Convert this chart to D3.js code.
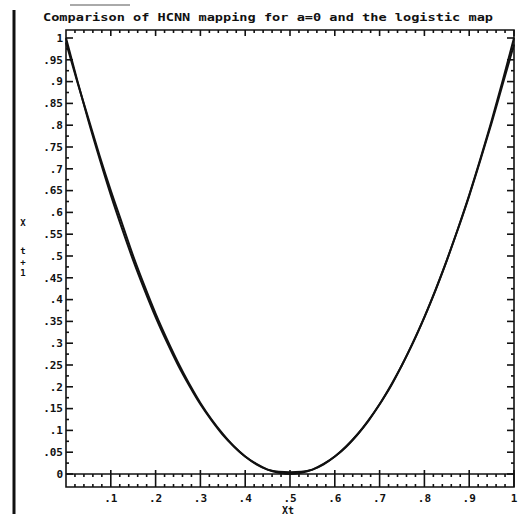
<!DOCTYPE html>
<html>

<head>
    <meta charset="UTF-8">
    <title>HCNN mapping vs logistic map</title>
    <style>
        body { margin: 0; background: #fff; }
        text { font-family: "DejaVu Sans Mono", monospace; font-weight: bold; fill: #111; }
    </style>
</head>

<body>
    <script src="https://d3js.org/d3.v7.min.js"></script>

    <svg width="521" height="518"></svg>

    <script>
        let svg = d3.select("svg"),
            width = +svg.attr("width"),
            height = +svg.attr("height");

        // x_t values the two maps were sampled at
        let xt = [0, .025, .05, .075, .1, .125, .15, .175, .2, .225, .25, .275, .3, .325, .35, .375, .4, .425, .45, .475,
            .5, .525, .55, .575, .6, .625, .65, .675, .7, .725, .75, .775, .8, .825, .85, .875, .9, .925, .95, .975, 1];

        // logistic map curve
        let logistic_vals = [1, .903, .81, .723, .64, .563, .49, .423, .36, .303, .25, .203, .16, .123, .09, .063, .04, .023, .01, .003,
            0, .003, .01, .023, .04, .063, .09, .123, .16, .203, .25, .303, .36, .423, .49, .563, .64, .723, .81, .903, 1];

        // HCNN mapping, nearly on top of the logistic one
        let hcnn_vals = [.99, .9, .815, .73, .65, .575, .5, .432, .368, .31, .256, .207, .163, .125, .092, .063, .04, .022, .01, .005,
            .004, .005, .01, .022, .04, .062, .09, .122, .16, .201, .25, .302, .36, .422, .49, .562, .638, .72, .805, .895, .985];

        let y_tick_vals = d3.range(0, 1.0001, 0.05);
        let y_tick_labels = ['0', '.05', '.1', '.15', '.2', '.25', '.3', '.35', '.4', '.45', '.5',
            '.55', '.6', '.65', '.7', '.75', '.8', '.85', '.9', '.95', '1'];
        let x_tick_vals = [.1, .2, .3, .4, .5, .6, .7, .8, .9, 1];
        let x_tick_labels = ['.1', '.2', '.3', '.4', '.5', '.6', '.7', '.8', '.9', '1'];

        let title = 'Comparison of HCNN mapping for a=0 and the logistic map';

        // frame geometry
        let f_left = 66, f_right = 514, f_top = 30, zero_y = 474, f_bottom = 487;

        let x = d3.scaleLinear().domain([0, 1]).range([f_left, f_right]);
        let y = d3.scaleLinear().domain([0, 1]).range([zero_y, 38]);

        // page edge of the scan
        svg.append("line").attr("x1", 14).attr("x2", 14).attr("y1", 10).attr("y2", 514)
            .attr("stroke", "#111").attr("stroke-width", 3);
        svg.append("line").attr("x1", 70).attr("x2", 130).attr("y1", 5).attr("y2", 5)
            .attr("stroke", "#555").attr("stroke-width", 1);

        // title
        svg.append("text")
            .attr("x", 43).attr("y", 21)
            .attr("textLength", 450).attr("lengthAdjust", "spacingAndGlyphs")
            .style("font-size", "11px")
            .text(title);

        let frame = svg.append("g").attr("stroke", "#111").attr("stroke-width", 1.6).attr("fill", "none");

        // outer box and the y=0 line
        frame.append("path")
            .attr("d", `M${f_left},${f_top}H${f_right}V${f_bottom}H${f_left}Z`);
        frame.append("line")
            .attr("x1", f_left).attr("x2", f_right).attr("y1", zero_y).attr("y2", zero_y);

        // left / right ticks (inward)
        let y_minor = d3.range(0.025, 1, 0.05);
        y_tick_vals.forEach(v => {
            frame.append("line").attr("x1", f_left).attr("x2", f_left + 7).attr("y1", y(v)).attr("y2", y(v));
            frame.append("line").attr("x1", f_right).attr("x2", f_right - 7).attr("y1", y(v)).attr("y2", y(v));
        });
        y_minor.forEach(v => {
            frame.append("line").attr("x1", f_left).attr("x2", f_left + 3).attr("y1", y(v)).attr("y2", y(v));
            frame.append("line").attr("x1", f_right).attr("x2", f_right - 3).attr("y1", y(v)).attr("y2", y(v));
        });

        // top and bottom ticks
        let x_minor = d3.range(0.02, 1, 0.02).filter(v => Math.abs(v * 10 - Math.round(v * 10)) > 1e-6);
        x_minor.forEach(v => {
            frame.append("line").attr("x1", x(v)).attr("x2", x(v)).attr("y1", f_top).attr("y2", f_top + 3);
            frame.append("line").attr("x1", x(v)).attr("x2", x(v)).attr("y1", zero_y).attr("y2", zero_y + 3);
            frame.append("line").attr("x1", x(v)).attr("x2", x(v)).attr("y1", f_bottom).attr("y2", f_bottom - 3);
        });
        x_tick_vals.forEach(v => {
            frame.append("line").attr("x1", x(v)).attr("x2", x(v)).attr("y1", f_top).attr("y2", f_top + 6);
            frame.append("line").attr("x1", x(v)).attr("x2", x(v)).attr("y1", zero_y - 4).attr("y2", f_bottom);
        });

        // tick labels
        svg.append("g").selectAll("text")
            .data(y_tick_vals).enter()
            .append("text")
            .attr("x", f_left - 3)
            .attr("y", d => y(d))
            .attr("dy", "0.35em")
            .attr("text-anchor", "end")
            .style("font-size", "11px")
            .text((d, i) => y_tick_labels[i]);

        svg.append("g").selectAll("text")
            .data(x_tick_vals).enter()
            .append("text")
            .attr("x", d => x(d))
            .attr("y", 502)
            .attr("text-anchor", "middle")
            .style("font-size", "11px")
            .text((d, i) => x_tick_labels[i]);

        // axis titles
        svg.append("text").attr("x", 288).attr("y", 514).attr("text-anchor", "middle")
            .style("font-size", "10px").text("Xt");
        let ylab = ['X', 't', '+', '1'];
        let ylab_y = [226, 254, 265, 276];
        ylab.forEach((c, i) => {
            svg.append("text").attr("x", 23).attr("y", ylab_y[i]).attr("text-anchor", "middle")
                .style("font-size", "9px").text(c);
        });

        // the two maps
        let line = d3.line().x(d => x(d[0])).y(d => y(d[1])).curve(d3.curveMonotoneX);
        [logistic_vals, hcnn_vals].forEach(vals => {
            svg.append("path")
                .datum(xt.map((v, i) => [v, vals[i]]))
                .attr("fill", "none")
                .attr("stroke", "#111")
                .attr("stroke-width", 2)
                .attr("d", line);
        });
    </script>
</body>

</html>
